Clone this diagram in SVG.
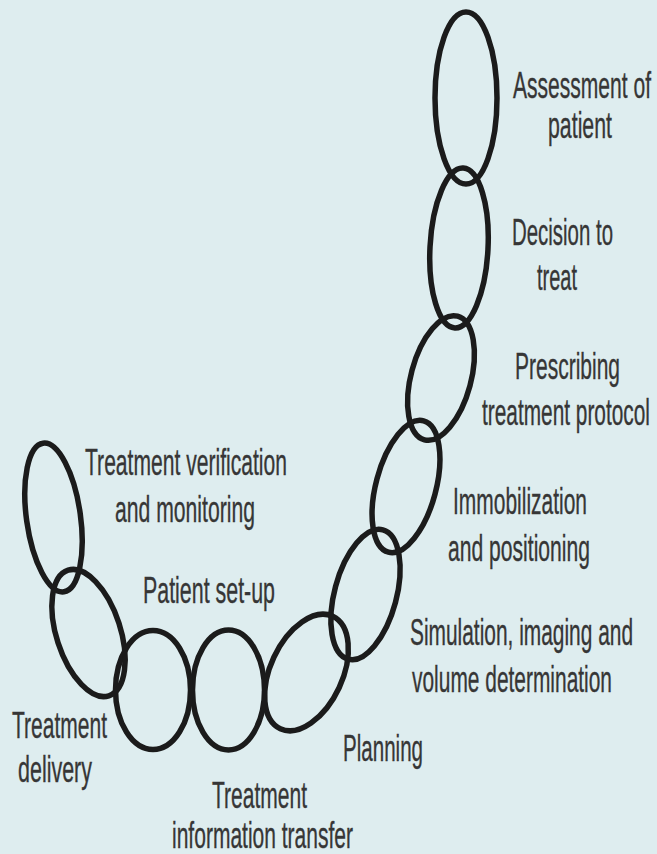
<svg xmlns="http://www.w3.org/2000/svg" width="657" height="854" viewBox="0 0 657 854">
<style>
.link{fill:none;stroke:#1b1b1b;stroke-width:5.5}
.lbl{font-family:"Liberation Sans",Arial,sans-serif;font-size:21.5px;fill:#363636;stroke:#363636;stroke-width:0.2;text-anchor:middle}
</style>
<rect width="657" height="854" fill="#deedef"/>
<g id="connectors"></g>
<g id="n1"><ellipse class="link" cx="466" cy="98" rx="31" ry="86"/>
<text class="lbl" transform="translate(582 98) scale(1 1.72)" textLength="138" lengthAdjust="spacingAndGlyphs">Assessment of</text>
<text class="lbl" transform="translate(580 138) scale(1 1.72)" textLength="64" lengthAdjust="spacingAndGlyphs">patient</text></g>
<g id="n2"><ellipse class="link" cx="459" cy="248" rx="29" ry="80" transform="rotate(3 459 248)"/>
<text class="lbl" transform="translate(562.5 245) scale(1 1.72)" textLength="101" lengthAdjust="spacingAndGlyphs">Decision to</text>
<text class="lbl" transform="translate(557 290) scale(1 1.72)" textLength="40" lengthAdjust="spacingAndGlyphs">treat</text></g>
<g id="n3"><ellipse class="link" cx="441" cy="378" rx="30" ry="64" transform="rotate(15 441 378)"/>
<text class="lbl" transform="translate(567.5 379) scale(1 1.72)" textLength="105" lengthAdjust="spacingAndGlyphs">Prescribing</text>
<text class="lbl" transform="translate(566 425) scale(1 1.72)" textLength="168" lengthAdjust="spacingAndGlyphs">treatment protocol</text></g>
<g id="n4"><ellipse class="link" cx="406" cy="486.5" rx="30" ry="68" transform="rotate(15 406 486.5)"/>
<text class="lbl" transform="translate(520 514) scale(1 1.72)" textLength="134" lengthAdjust="spacingAndGlyphs">Immobilization</text>
<text class="lbl" transform="translate(519 561) scale(1 1.72)" textLength="142" lengthAdjust="spacingAndGlyphs">and positioning</text></g>
<g id="n5"><ellipse class="link" cx="365.5" cy="594.5" rx="31" ry="67" transform="rotate(15 365.5 594.5)"/>
<text class="lbl" transform="translate(521.5 645) scale(1 1.72)" textLength="223" lengthAdjust="spacingAndGlyphs">Simulation, imaging and</text>
<text class="lbl" transform="translate(512 692) scale(1 1.72)" textLength="200" lengthAdjust="spacingAndGlyphs">volume determination</text></g>
<g id="n6"><ellipse class="link" cx="306.5" cy="672.5" rx="36" ry="62" transform="rotate(25 306.5 672.5)"/>
<text class="lbl" transform="translate(383 761) scale(1 1.72)" textLength="80" lengthAdjust="spacingAndGlyphs">Planning</text></g>
<g id="n7"><ellipse class="link" cx="228.5" cy="690" rx="36" ry="60"/>
<text class="lbl" transform="translate(259.5 808) scale(1 1.72)" textLength="95" lengthAdjust="spacingAndGlyphs">Treatment</text>
<text class="lbl" transform="translate(262.5 848) scale(1 1.72)" textLength="181" lengthAdjust="spacingAndGlyphs">information transfer</text></g>
<g id="n8"><ellipse class="link" cx="153" cy="690" rx="37.5" ry="59.5"/>
<text class="lbl" transform="translate(209 603) scale(1 1.72)" textLength="132" lengthAdjust="spacingAndGlyphs">Patient set-up</text></g>
<g id="n9"><ellipse class="link" cx="88.5" cy="633" rx="32" ry="66" transform="rotate(-18 88.5 633)"/>
<text class="lbl" transform="translate(59.5 738) scale(1 1.72)" textLength="95" lengthAdjust="spacingAndGlyphs">Treatment</text>
<text class="lbl" transform="translate(55 782) scale(1 1.72)" textLength="74" lengthAdjust="spacingAndGlyphs">delivery</text></g>
<g id="n10"><ellipse class="link" cx="53.5" cy="517.5" rx="27" ry="75" transform="rotate(-8 53.5 517.5)"/>
<text class="lbl" transform="translate(186 475) scale(1 1.72)" textLength="202" lengthAdjust="spacingAndGlyphs">Treatment verification</text>
<text class="lbl" transform="translate(185 522) scale(1 1.72)" textLength="140" lengthAdjust="spacingAndGlyphs">and monitoring</text></g>
</svg>
